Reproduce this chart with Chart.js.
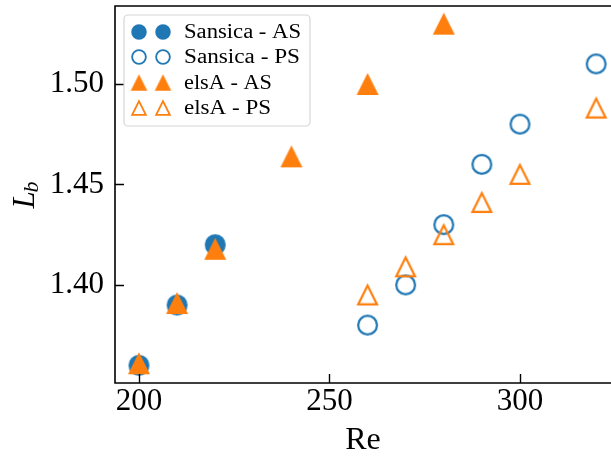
<!DOCTYPE html>
<html>
<head>
<meta charset="utf-8">
<script src="https://cdn.jsdelivr.net/npm/chart.js@4.4.0/dist/chart.umd.min.js"></script>
<style>
  html, body { margin: 0; padding: 0; background: #fff; overflow: hidden; }
  canvas { display: block; }
</style>
</head>
<body>
<canvas id="canvas" width="611" height="460"></canvas>
<script>
const blue = '#1f77b4'
const orange = '#ff7f0e'

// data
const reSansicaAS = [200, 210, 220]
const lbSansicaAS = [1.360, 1.390, 1.420]
const reSansicaPS = [260, 270, 280, 290, 300, 320]
const lbSansicaPS = [1.380, 1.400, 1.430, 1.460, 1.480, 1.510]
const reElsaAS = [200, 210, 220, 240, 260, 280]
const lbElsaAS = [1.361, 1.391, 1.418, 1.464, 1.500, 1.530]
const reElsaPS = [260, 270, 280, 290, 300, 320]
const lbElsaPS = [1.395, 1.409, 1.425, 1.441, 1.455, 1.488]

const xTicks = [200, 250, 300]
const yTicks = [1.40, 1.45, 1.50]
const legendLabels = ['Sansica - AS', 'Sansica - PS', 'elsA - AS', 'elsA - PS']

const serif = '"Liberation Serif", "DejaVu Serif", serif'

// matplotlib-like markers drawn on small canvases
function marker(shape, filled, color, size, lw) {
  const c = document.createElement('canvas')
  const full = Math.ceil(size + 6)
  c.width = full
  c.height = full
  const g = c.getContext('2d')
  const cx = full / 2, cy = full / 2
  g.beginPath()
  if (shape === 'circle') {
    const r = filled ? size / 2 : size / 2 - lw / 2
    g.arc(cx, cy, r, 0, Math.PI * 2)
  } else {
    const h = filled ? size : size - lw
    g.moveTo(cx, cy - h / 2)
    g.lineTo(cx - h / 2, cy + h / 2)
    g.lineTo(cx + h / 2, cy + h / 2)
    g.closePath()
  }
  if (filled) {
    g.fillStyle = color
    g.fill()
  } else {
    g.strokeStyle = color
    g.lineWidth = lw
    g.lineJoin = 'miter'
    g.stroke()
  }
  return c
}

const bigMarkers = [
  marker('circle', true, blue, 21, 2),
  marker('circle', false, blue, 21, 2.2),
  marker('triangle', true, orange, 22, 2),
  marker('triangle', false, orange, 21, 2.2)
]
const smallMarkers = [
  marker('circle', true, blue, 15.5, 1.7),
  marker('circle', false, blue, 15.5, 1.8),
  marker('triangle', true, orange, 16.5, 1.7),
  marker('triangle', false, orange, 15.5, 1.8)
]

function pts(xs, ys) {
  return xs.map((v, i) => ({ x: v, y: ys[i] }))
}

const frame = {
  id: 'frame',
  afterDatasetsDraw(chart) {
    const ctx = chart.ctx
    const a = chart.chartArea
    const x = chart.scales.x
    const y = chart.scales.y
    ctx.save()
    // spines (no right spine, it's past the edge)
    ctx.strokeStyle = '#000'
    ctx.lineWidth = 1.6
    ctx.beginPath()
    ctx.moveTo(a.right + 5, a.top)
    ctx.lineTo(a.left, a.top)
    ctx.lineTo(a.left, a.bottom)
    ctx.lineTo(a.right + 5, a.bottom)
    ctx.stroke()
    // inward ticks
    ctx.lineWidth = 1.4
    ctx.beginPath()
    xTicks.forEach(v => {
      const px = Math.round(x.getPixelForValue(v)) + 0.5
      ctx.moveTo(px, a.bottom)
      ctx.lineTo(px, a.bottom - 9)
    })
    yTicks.forEach(v => {
      const py = Math.round(y.getPixelForValue(v)) + 0.5
      ctx.moveTo(a.left, py)
      ctx.lineTo(a.left + 9, py)
    })
    ctx.stroke()

    // y axis label L_b
    ctx.save()
    ctx.translate(34, (a.top + a.bottom) / 2)
    ctx.rotate(-Math.PI / 2)
    ctx.fillStyle = '#000'
    ctx.textBaseline = 'alphabetic'
    ctx.font = 'italic 31px ' + serif
    const wL = ctx.measureText('L').width
    ctx.font = 'italic 22px ' + serif
    const wb = ctx.measureText('b').width
    const x0 = -(wL + wb) / 2
    ctx.font = 'italic 31px ' + serif
    ctx.fillText('L', x0, 0)
    ctx.font = 'italic 22px ' + serif
    ctx.fillText('b', x0 + wL - 1, 4)
    ctx.restore()

    // legend with two markers per row, like matplotlib
    const bx = 124, by = 15, bw = 186, bh = 111, br = 4
    ctx.beginPath()
    ctx.moveTo(bx + br, by)
    ctx.arcTo(bx + bw, by, bx + bw, by + bh, br)
    ctx.arcTo(bx + bw, by + bh, bx, by + bh, br)
    ctx.arcTo(bx, by + bh, bx, by, br)
    ctx.arcTo(bx, by, bx + bw, by, br)
    ctx.closePath()
    ctx.fillStyle = 'rgba(255,255,255,0.8)'
    ctx.fill()
    ctx.strokeStyle = '#d6d6d6'
    ctx.lineWidth = 1.2
    ctx.stroke()
    const rows = [32, 57, 82.5, 108]
    ctx.font = '20px ' + serif
    ctx.textBaseline = 'middle'
    ctx.fillStyle = '#000'
    legendLabels.forEach((t, i) => {
      const m = smallMarkers[i]
      ;[139, 163].forEach(mx => {
        ctx.drawImage(m, mx - m.width / 2, rows[i] - m.height / 2)
      })
      const w = ctx.measureText(t).width
      const target = { 'Sansica - AS': 117, 'Sansica - PS': 116, 'elsA - AS': 88, 'elsA - PS': 87 }[t]
      ctx.save()
      ctx.translate(184, rows[i] + 1)
      ctx.scale(target / w, 1)
      ctx.fillText(t, 0, 0)
      ctx.restore()
    })
    ctx.restore()
  }
}

const ctx = document.getElementById('canvas')

new Chart(ctx, {
  type: 'scatter',
  data: {
    datasets: [
      { label: legendLabels[0], data: pts(reSansicaAS, lbSansicaAS), pointStyle: bigMarkers[0], pointRadius: 10, order: 4 },
      { label: legendLabels[1], data: pts(reSansicaPS, lbSansicaPS), pointStyle: bigMarkers[1], pointRadius: 10, order: 3 },
      { label: legendLabels[2], data: pts(reElsaAS, lbElsaAS), pointStyle: bigMarkers[2], pointRadius: 10, order: 2 },
      { label: legendLabels[3], data: pts(reElsaPS, lbElsaPS), pointStyle: bigMarkers[3], pointRadius: 10, order: 1 }
    ]
  },
  options: {
    responsive: false,
    animation: false,
    events: [],
    layout: { autoPadding: false, padding: { top: 6, right: 0, left: 0, bottom: 0 } },
    plugins: {
      legend: { display: false },
      tooltip: { enabled: false }
    },
    scales: {
      x: {
        type: 'linear',
        min: 193.7,
        max: 323.9,
        grid: { display: false, drawTicks: false },
        border: { display: false },
        afterBuildTicks: s => { s.ticks = xTicks.map(v => ({ value: v })) },
        afterFit: s => { s.height = 77; s.paddingLeft = 0; s.paddingRight = 0 },
        ticks: {
          padding: 0,
          color: '#000',
          font: { family: serif, size: 31 },
          callback: v => String(v)
        },
        title: {
          display: true,
          text: 'Re',
          color: '#000',
          font: { family: serif, size: 32 },
          padding: { top: 4, bottom: 0 }
        }
      },
      y: {
        type: 'linear',
        min: 1.3512,
        max: 1.5388,
        grid: { display: false, drawTicks: false },
        border: { display: false },
        afterBuildTicks: s => { s.ticks = yTicks.map(v => ({ value: v })) },
        afterFit: s => { s.width = 115; s.paddingTop = 0; s.paddingBottom = 0 },
        ticks: {
          padding: 11,
          color: '#000',
          font: { family: serif, size: 31 },
          callback: v => v.toFixed(2)
        }
      }
    }
  },
  plugins: [frame]
})
</script>
</body>
</html>
